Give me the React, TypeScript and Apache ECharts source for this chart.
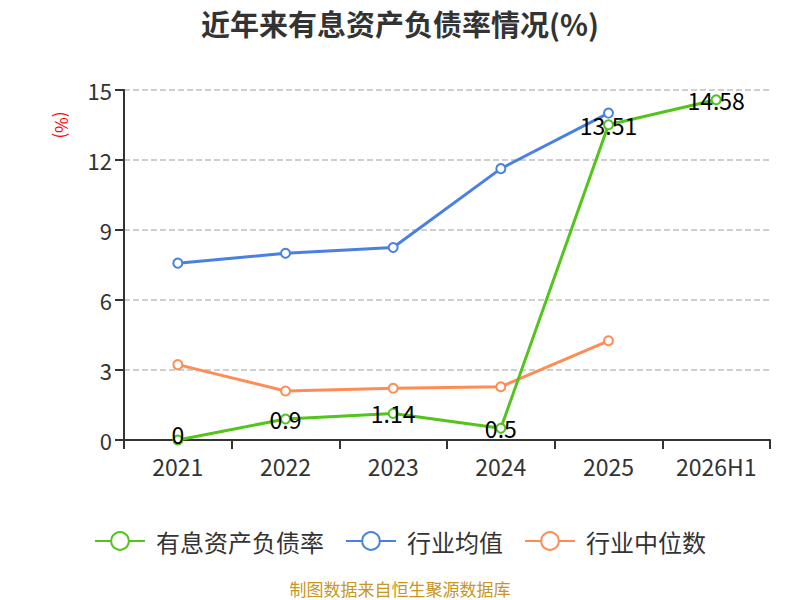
import React, { useEffect, useRef } from "react";
import * as echarts from "echarts";

const categories = ["2021", "2022", "2023", "2024", "2025", "2026H1"];
const debtRatio = [0, 0.9, 1.14, 0.5, 13.51, 14.58];
const industryAvg = [7.58, 8.0, 8.25, 11.63, 14.01, null];
const industryMedian = [3.23, 2.1, 2.22, 2.28, 4.25, null];
const seriesNames = ["有息资产负债率", "行业均值", "行业中位数"];
const colors = ["#52c41a", "#4a80e2", "#ff8c55"];

export default function App() {
  const ref = useRef<HTMLDivElement>(null);
  useEffect(() => {
    if (!ref.current) return;
    const chart = echarts.init(ref.current, null, { renderer: "svg" });
    const font = "'Noto Sans CJK SC', 'Noto Sans', sans-serif";
    const mk = (i: number, data: any[], label: boolean) => ({
      name: seriesNames[i],
      type: "line",
      data,
      symbol: "emptyCircle",
      symbolSize: 9,
      lineStyle: { width: 3, color: colors[i] },
      itemStyle: { color: colors[i], borderWidth: 1.5 },
      label: label
        ? {
            show: true,
            position: "inside",
            fontSize: 23,
            lineHeight: 18,
            color: "#000",
            fontFamily: font,
          }
        : { show: false },
      z: label ? 3 : 2,
    });
    // lift the label that sits on the x axis a little so it does not collide with the axis label
    const debtData = debtRatio.map((v, idx) =>
      idx === 0 ? { value: v, label: { offset: [0, -6] } } : v
    );
    chart.setOption({
      animation: false,
      textStyle: { fontFamily: font },
      title: {
        text: "近年来有息资产负债率情况(%)",
        left: "center",
        top: 3,
        textStyle: { fontSize: 29, fontWeight: "bold", color: "#333", fontFamily: font },
      },
      grid: { left: 124, right: 30, top: 90, bottom: 160 },
      legend: {
        data: seriesNames,
        top: 524,
        left: "center",
        itemWidth: 50,
        itemHeight: 22,
        itemGap: 21,
        textStyle: { fontSize: 24, color: "#333", fontFamily: font, padding: [0, 0, 0, 6] },
      },
      xAxis: {
        type: "category",
        data: categories,
        boundaryGap: true,
        axisLine: { lineStyle: { color: "#333", width: 2 } },
        axisTick: { show: true, length: 9, lineStyle: { color: "#333", width: 2 } },
        axisLabel: { fontSize: 23, lineHeight: 20, color: "#333", margin: 16, fontFamily: font },
      },
      yAxis: {
        type: "value",
        min: 0,
        max: 15,
        interval: 3,
        axisLine: { show: true, lineStyle: { color: "#333", width: 2 } },
        axisTick: { show: true, length: 9, lineStyle: { color: "#333", width: 2 } },
        axisLabel: { fontSize: 22, color: "#333", margin: 12, fontFamily: font },
        splitLine: { lineStyle: { type: "dashed", color: "#c0c0c0", width: 1.5 } },
      },
      graphic: [
        {
          type: "text",
          x: 62,
          y: 125,
          rotation: -Math.PI / 2,
          style: {
            text: "(%)",
            fontSize: 17,
            fill: "#ff0000",
            fontFamily: font,
            align: "center",
            verticalAlign: "middle",
          },
        },
        {
          type: "text",
          x: 400,
          y: 588,
          style: {
            text: "制图数据来自恒生聚源数据库",
            fontSize: 17,
            fill: "#c8961e",
            fontFamily: font,
            align: "center",
            verticalAlign: "middle",
          },
        },
      ],
      series: [mk(0, debtData, true), mk(1, industryAvg, false), mk(2, industryMedian, false)],
    });
    return () => chart.dispose();
  }, []);
  return (
    <div
      ref={ref}
      style={{ position: "absolute", left: 0, top: 0, width: 800, height: 600 }}
    />
  );
}
